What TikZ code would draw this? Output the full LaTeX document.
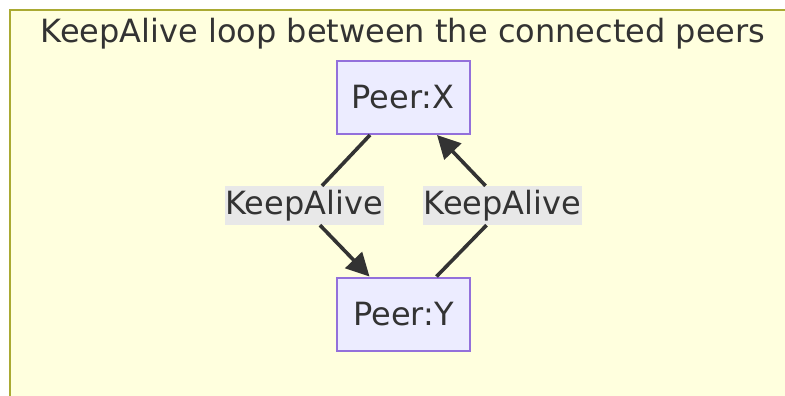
\documentclass[tikz,border=0pt]{standalone}
\usepackage{fontspec}
\setmainfont{DejaVu Sans}
\usetikzlibrary{arrows.meta}
\definecolor{txtgray}{HTML}{333333}
\definecolor{framefill}{HTML}{FFFFDE}
\definecolor{framedraw}{HTML}{AAAA33}
\definecolor{peerfill}{HTML}{ECECFF}
\definecolor{peerdraw}{HTML}{9370DB}
\definecolor{lblfill}{HTML}{E8E8E8}
\tikzstyle{peer}=[rectangle,fill=peerfill,draw=peerdraw,line width=2pt,inner sep=0pt,minimum width=133pt,minimum height=73pt,text=txtgray]
\tikzstyle{lbl}=[rectangle,fill=lblfill,inner sep=0pt,minimum width=159pt,minimum height=39pt,text=txtgray]
\tikzstyle{edge}=[line width=3.6pt,draw=txtgray,-{Triangle[length=23pt,width=23pt]}]

\begin{document}
\begin{tikzpicture}[x=1pt,y=-1pt,font=\fontsize{32}{38}\selectfont]
  \useasboundingbox (0,0) rectangle (785,396);
  \clip (0,0) rectangle (785,396);
  \draw [fill=framefill,draw=framedraw,line width=2.6pt] (10,10) rectangle (820,430);
  \node [text=txtgray,anchor=base] at (403, 43) (title) {KeepAlive loop between the connected peers};

  \node [peer] at (403, 97.5) (peerx) {Peer:X};
  \node [peer] at (403.5, 314) (peery) {Peer:Y};
  \node [lbl] at (304, 205.5) (kaxy) {KeepAlive};
  \node [lbl] at (502.5, 205.5) (kayx) {KeepAlive};

  \draw [edge,-] ([xshift=-33pt]peerx.south) -- ([xshift=18pt]kaxy.north);
  \draw [edge] ([xshift=16pt]kaxy.south) -- ([xshift=-34pt]peery.north);
  \draw [edge,-] ([xshift=33pt]peery.north) -- ([xshift=-16pt]kayx.south);
  \draw [edge] ([xshift=-17pt]kayx.north) -- ([xshift=34pt]peerx.south);
\end{tikzpicture}
\end{document}
